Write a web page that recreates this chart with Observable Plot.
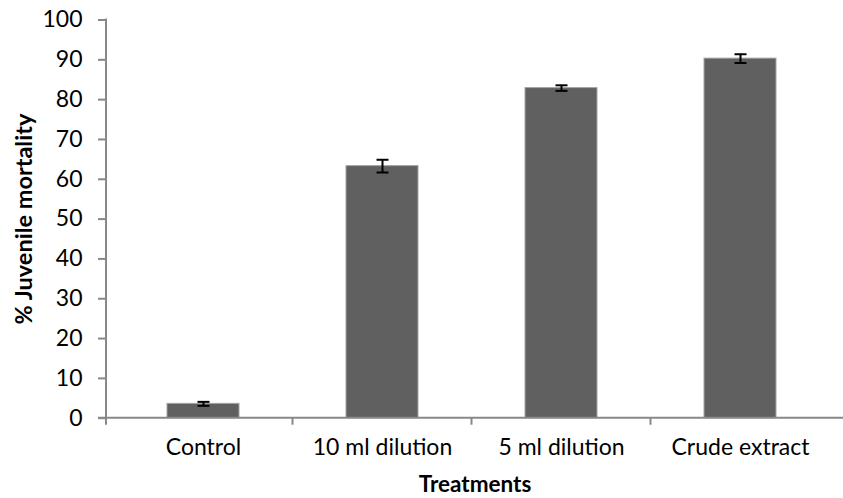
<!DOCTYPE html>
<html><head><meta charset="utf-8">
<script src="https://cdn.jsdelivr.net/npm/d3@7"></script>
<script src="https://cdn.jsdelivr.net/npm/@observablehq/plot@0.6"></script>
<style>html,body{margin:0;padding:0;background:#fff}#chart svg{display:block}</style>
</head><body><div id="chart"></div>
<script>
const treatments = ["Control", "10 ml dilution", "5 ml dilution", "Crude extract"];
const mortality = [3.6, 63.3, 82.9, 90.3];
const errors = [0.5, 1.6, 0.7, 1.1];
const yTicks = [0, 10, 20, 30, 40, 50, 60, 70, 80, 90, 100];
const yLabel = "% Juvenile mortality";
const xLabel = "Treatments";

const data = treatments.map((t, i) => ({
  treatment: t, value: mortality[i], lo: mortality[i] - errors[i], hi: mortality[i] + errors[i]
}));

const axisGray = "#888888";
const font = "Lato, 'Open Sans', sans-serif";

const capSymbol = {
  draw(ctx, size) {
    const w = Math.sqrt(size / Math.PI);
    ctx.moveTo(-w, 0);
    ctx.lineTo(w, 0);
  }
};

function axisLines(index, scales, values, dims) {
  const x = scales.x;
  const bottom = dims.height - dims.marginBottom;
  const left = dims.marginLeft;
  const g = d3.create("svg:g").attr("stroke", axisGray).attr("stroke-width", 2).attr("fill", "none");
  g.append("line").attr("x1", left).attr("x2", left).attr("y1", dims.marginTop - 1).attr("y2", bottom + 7);
  g.append("line").attr("x1", left - 8).attr("x2", dims.width - dims.marginRight).attr("y1", bottom).attr("y2", bottom);
  const bw = typeof x.bandwidth === "function" ? x.bandwidth() : (x.bandwidth || 0);
  const centers = treatments.map(t => x(t) + bw / 2);
  for (let i = 1; i < centers.length; i++) {
    const bx = (centers[i - 1] + centers[i]) / 2;
    g.append("line").attr("x1", bx).attr("x2", bx).attr("y1", bottom).attr("y2", bottom + 7);
  }
  return g.node();
}

const chart = Plot.plot({
  width: 843,
  height: 498,
  marginTop: 19.5,
  marginBottom: 80.3,
  marginLeft: 106,
  marginRight: 0,
  style: {fontFamily: font, color: "#000", background: "#fff"},
  x: {domain: treatments, paddingInner: 0.6, paddingOuter: 0.3, insetLeft: 6, insetRight: 13},
  y: {domain: [0, 100]},
  marks: [
    Plot.barY(data, {x: "treatment", y: "value", fill: "#606060", stroke: "#a3a3a3", strokeWidth: 1}),
    Plot.ruleX(data, {x: "treatment", y1: "lo", y2: "hi", stroke: "#000", strokeWidth: 2}),
    Plot.dot(data, {x: "treatment", y: "lo", symbol: capSymbol, r: 6, stroke: "#000", strokeWidth: 2, fill: "none"}),
    Plot.dot(data, {x: "treatment", y: "hi", symbol: capSymbol, r: 6, stroke: "#000", strokeWidth: 2, fill: "none"}),
    Plot.axisY({ticks: yTicks, tickSize: 8, tickPadding: 16, stroke: axisGray, strokeWidth: 2, fill: "#000", fontSize: 23, label: null}),
    Plot.axisX({tickSize: 0, tickPadding: 20, fill: "#000", fontSize: 23, label: null}),
    axisLines,
    Plot.text([yLabel], {frameAnchor: "left", textAnchor: "middle", lineAnchor: "middle", dx: -82.5, rotate: -90, fontSize: 23.5, fontWeight: "bold", fill: "#000", fontFamily: font}),
    Plot.text([xLabel], {frameAnchor: "bottom", textAnchor: "middle", lineAnchor: "middle", dy: 67, fontSize: 22.5, fontWeight: "bold", fill: "#000", fontFamily: font})
  ]
});
document.getElementById("chart").append(chart);
</script>
</body></html>
